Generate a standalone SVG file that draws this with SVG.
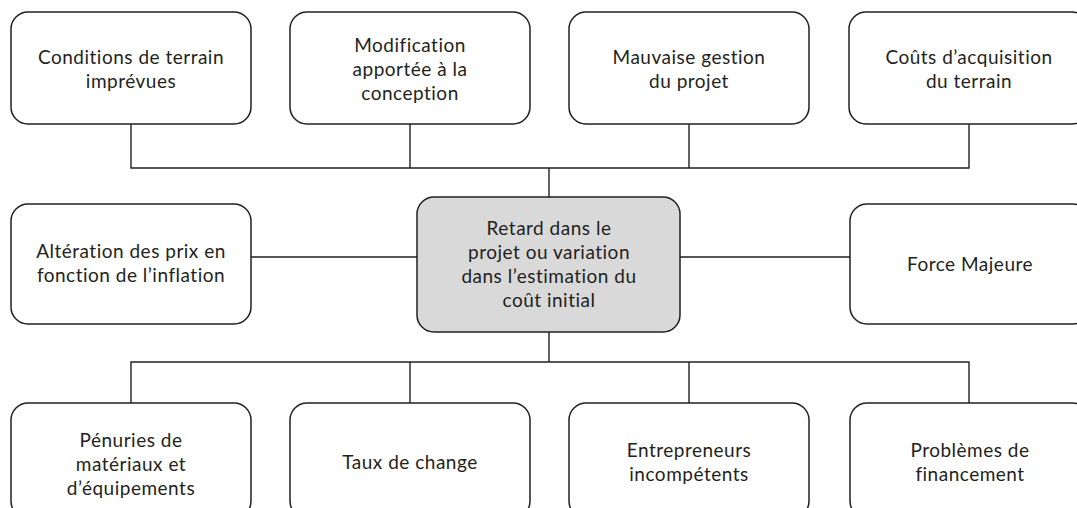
<svg xmlns="http://www.w3.org/2000/svg" width="1077" height="508" viewBox="0 0 1077 508">
<style>
.box{fill:#ffffff;stroke:#231f20;stroke-width:1.5}
.center{fill:#d9d9d9;stroke:#231f20;stroke-width:1.5}
.lbl{font-family:Lato,"Liberation Sans",sans-serif;font-size:19px;letter-spacing:0.5px;fill:#231f20;text-anchor:middle}
.conn{fill:none;stroke:#231f20;stroke-width:1.4}
</style>
<rect width="1077" height="508" fill="#ffffff"/>
<g id="connectors">
<path class="conn" d="M131,124 V168 H969 V124 M410,124 V168 M689,124 V168 M549,168 V197"/>
<path class="conn" d="M251,257 H417 M680,257 H850"/>
<path class="conn" d="M549,332 V362 M131,403 V362 H969 V403 M410,362 V403 M689,362 V403"/>
</g>
<g id="n-conditions">
<rect class="box" x="11" y="12" width="240" height="112" rx="17"/>
<text class="lbl" x="131" y="64">Conditions de terrain</text>
<text class="lbl" x="131" y="88">imprévues</text>
</g>
<g id="n-modification">
<rect class="box" x="290" y="12" width="240" height="112" rx="17"/>
<text class="lbl" x="410" y="52">Modification</text>
<text class="lbl" x="410" y="76">apportée à la</text>
<text class="lbl" x="410" y="100">conception</text>
</g>
<g id="n-mauvaise">
<rect class="box" x="569" y="12" width="240" height="112" rx="17"/>
<text class="lbl" x="689" y="64">Mauvaise gestion</text>
<text class="lbl" x="689" y="88">du projet</text>
</g>
<g id="n-couts">
<rect class="box" x="849" y="12" width="240" height="112" rx="17"/>
<text class="lbl" x="969" y="64">Coûts d’acquisition</text>
<text class="lbl" x="969" y="88">du terrain</text>
</g>
<g id="n-alteration">
<rect class="box" x="11" y="204" width="240" height="120" rx="17"/>
<text class="lbl" x="131" y="258">Altération des prix en</text>
<text class="lbl" x="131" y="282">fonction de l’inflation</text>
</g>
<g id="n-center">
<rect class="center" x="417" y="197" width="263" height="135" rx="17"/>
<text class="lbl" x="549" y="235">Retard dans le</text>
<text class="lbl" x="549" y="259">projet ou variation</text>
<text class="lbl" x="549" y="283">dans l’estimation du</text>
<text class="lbl" x="549" y="307">coût initial</text>
</g>
<g id="n-force">
<rect class="box" x="850" y="204" width="240" height="120" rx="17"/>
<text class="lbl" x="970" y="271">Force Majeure</text>
</g>
<g id="n-penuries">
<rect class="box" x="11" y="403" width="240" height="115" rx="17"/>
<text class="lbl" x="131" y="447">Pénuries de</text>
<text class="lbl" x="131" y="471">matériaux et</text>
<text class="lbl" x="131" y="495">d’équipements</text>
</g>
<g id="n-taux">
<rect class="box" x="290" y="403" width="240" height="115" rx="17"/>
<text class="lbl" x="410" y="469">Taux de change</text>
</g>
<g id="n-entrepreneurs">
<rect class="box" x="569" y="403" width="240" height="115" rx="17"/>
<text class="lbl" x="689" y="457">Entrepreneurs</text>
<text class="lbl" x="689" y="481">incompétents</text>
</g>
<g id="n-problemes">
<rect class="box" x="850" y="403" width="240" height="115" rx="17"/>
<text class="lbl" x="970" y="457">Problèmes de</text>
<text class="lbl" x="970" y="481">financement</text>
</g>
</svg>
